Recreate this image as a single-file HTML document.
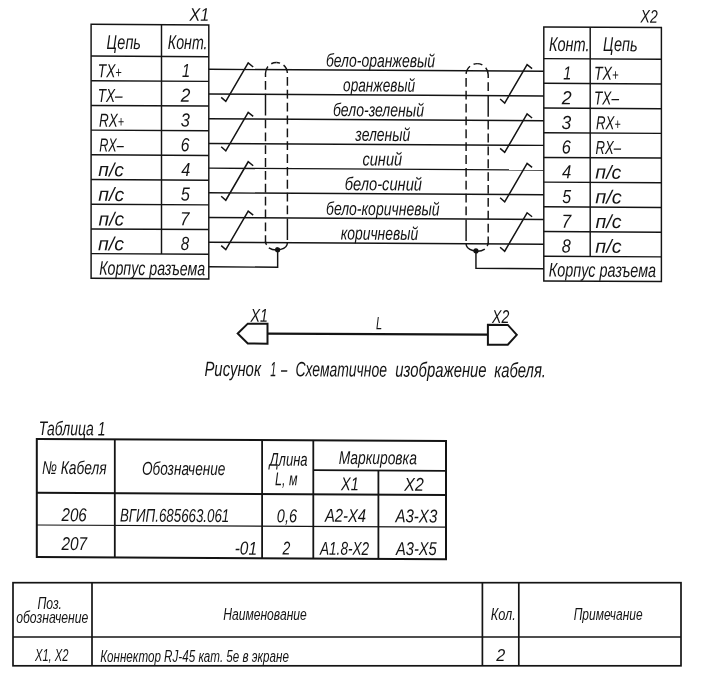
<!DOCTYPE html>
<html lang="ru">
<head>
<meta charset="utf-8">
<title>Схема кабеля</title>
<style>
html,body{margin:0;padding:0;background:#fff;}
body{width:702px;height:692px;overflow:hidden;}
svg{display:block;will-change:transform;}
svg text{white-space:pre;}
</style>
</head>
<body>
<svg width="702" height="692" viewBox="0 0 702 692" stroke="#141414" fill="none">
<rect x="0" y="0" width="702" height="692" fill="#ffffff" stroke="none"/>
<g transform="translate(91 24.3) skewY(0.33) translate(-91 -24.3)">
<rect x="91.1" y="24.3" width="117.70" height="254.00" fill="none" stroke-width="1.45"/>
<line x1="161.50" y1="24.30" x2="161.50" y2="253.60" stroke-width="1.45" />
<line x1="91.10" y1="56.00" x2="208.80" y2="56.00" stroke-width="1.45" />
<line x1="91.10" y1="80.70" x2="208.80" y2="80.70" stroke-width="1.45" />
<line x1="91.10" y1="105.40" x2="208.80" y2="105.40" stroke-width="1.45" />
<line x1="91.10" y1="130.10" x2="208.80" y2="130.10" stroke-width="1.45" />
<line x1="91.10" y1="154.80" x2="208.80" y2="154.80" stroke-width="1.45" />
<line x1="91.10" y1="179.50" x2="208.80" y2="179.50" stroke-width="1.45" />
<line x1="91.10" y1="204.20" x2="208.80" y2="204.20" stroke-width="1.45" />
<line x1="91.10" y1="228.90" x2="208.80" y2="228.90" stroke-width="1.45" />
<line x1="91.10" y1="253.60" x2="208.80" y2="253.60" stroke-width="1.45" />
<rect x="543.8" y="24.3" width="117.60" height="254.00" fill="none" stroke-width="1.45"/>
<line x1="590.20" y1="24.30" x2="590.20" y2="253.60" stroke-width="1.45" />
<line x1="543.80" y1="56.00" x2="661.40" y2="56.00" stroke-width="1.45" />
<line x1="543.80" y1="80.70" x2="661.40" y2="80.70" stroke-width="1.45" />
<line x1="543.80" y1="105.40" x2="661.40" y2="105.40" stroke-width="1.45" />
<line x1="543.80" y1="130.10" x2="661.40" y2="130.10" stroke-width="1.45" />
<line x1="543.80" y1="154.80" x2="661.40" y2="154.80" stroke-width="1.45" />
<line x1="543.80" y1="179.50" x2="661.40" y2="179.50" stroke-width="1.45" />
<line x1="543.80" y1="204.20" x2="661.40" y2="204.20" stroke-width="1.45" />
<line x1="543.80" y1="228.90" x2="661.40" y2="228.90" stroke-width="1.45" />
<line x1="543.80" y1="253.60" x2="661.40" y2="253.60" stroke-width="1.45" />
<line x1="208.80" y1="68.65" x2="543.80" y2="68.65" stroke-width="1.45" />
<line x1="208.80" y1="93.35" x2="543.80" y2="93.35" stroke-width="1.45" />
<line x1="208.80" y1="118.05" x2="543.80" y2="118.05" stroke-width="1.45" />
<line x1="208.80" y1="142.75" x2="543.80" y2="142.75" stroke-width="1.45" />
<line x1="208.80" y1="167.45" x2="543.80" y2="167.45" stroke-width="1.45" />
<line x1="208.80" y1="192.15" x2="543.80" y2="192.15" stroke-width="1.45" />
<line x1="208.80" y1="216.85" x2="543.80" y2="216.85" stroke-width="1.45" />
<line x1="208.80" y1="241.55" x2="543.80" y2="241.55" stroke-width="1.45" />
<polyline fill="none" stroke-width="1.5" stroke-linejoin="miter" points="221.20,96.65 225.80,100.65 248.20,62.05 253.20,66.05"/>
<polyline fill="none" stroke-width="1.5" stroke-linejoin="miter" points="500.10,96.65 504.70,100.65 527.10,62.05 532.10,66.05"/>
<polyline fill="none" stroke-width="1.5" stroke-linejoin="miter" points="221.20,146.05 225.80,150.05 248.20,111.45 253.20,115.45"/>
<polyline fill="none" stroke-width="1.5" stroke-linejoin="miter" points="500.10,146.05 504.70,150.05 527.10,111.45 532.10,115.45"/>
<polyline fill="none" stroke-width="1.5" stroke-linejoin="miter" points="221.20,195.45 225.80,199.45 248.20,160.85 253.20,164.85"/>
<polyline fill="none" stroke-width="1.5" stroke-linejoin="miter" points="500.10,195.45 504.70,199.45 527.10,160.85 532.10,164.85"/>
<polyline fill="none" stroke-width="1.5" stroke-linejoin="miter" points="221.20,244.85 225.80,248.85 248.20,210.25 253.20,214.25"/>
<polyline fill="none" stroke-width="1.5" stroke-linejoin="miter" points="500.10,244.85 504.70,248.85 527.10,210.25 532.10,214.25"/>
<path fill="none" stroke-width="1.45" d="M276.45,61.40 A10.95,10.95 0 0 0 265.50,72.35 L265.50,241.55" stroke-dasharray="5.40 4.30 10.92 4.06 8.80 4.06 21.66 4.06 8.80 4.06 8.80 4.06 8.80 4.06 8.80 4.06 8.80 4.06 8.80 4.06 8.80 4.06 8.80 4.06 8.80 4.06 8.80 4.06"/>
<path fill="none" stroke-width="1.45" d="M276.45,61.40 A10.95,10.95 0 0 1 287.40,72.35 L287.40,241.55" stroke-dasharray="3.65 4.06 8.80 4.06 8.80 4.06 8.80 4.06 8.80 4.06 8.80 4.06 8.80 4.06 8.80 4.06 8.80 4.06 8.80 4.06 8.80 4.06 8.80 4.06 8.80 4.06 21.66 40.00"/>
<path fill="none" stroke-width="1.45" d="M287.40,241.55 A10.95,7.3 0 0 1 268.84,246.80"/>
<path fill="none" stroke-width="1.45" d="M265.50,240.55 Q265.50,242.75 266.70,243.75"/>
<circle cx="277.65" cy="248.65" r="2.6" fill="#141414" stroke="none"/>
<polyline fill="none" stroke-width="1.45" points="277.65,248.65 277.65,266.15 208.80,266.15"/>
<path fill="none" stroke-width="1.45" d="M477.15,61.40 A11.05,11.05 0 0 1 488.20,72.45 L488.20,241.55" stroke-dasharray="5.40 4.30 10.92 4.06 8.80 4.06 21.66 4.06 8.80 4.06 8.80 4.06 8.80 4.06 8.80 4.06 8.80 4.06 8.80 4.06 8.80 4.06 8.80 4.06 8.80 4.06 8.80 4.06"/>
<path fill="none" stroke-width="1.45" d="M477.15,61.40 A11.05,11.05 0 0 0 466.10,72.45 L466.10,241.55" stroke-dasharray="3.65 4.06 8.80 4.06 8.80 4.06 8.80 4.06 8.80 4.06 8.80 4.06 8.80 4.06 8.80 4.06 8.80 4.06 8.80 4.06 8.80 4.06 8.80 4.06 8.80 4.06 21.66 40.00"/>
<path fill="none" stroke-width="1.45" d="M466.10,241.55 A11.05,7.3 0 0 0 484.83,246.80"/>
<path fill="none" stroke-width="1.45" d="M488.20,240.55 Q488.20,242.75 487.00,243.75"/>
<circle cx="475.95" cy="248.65" r="2.6" fill="#141414" stroke="none"/>
<polyline fill="none" stroke-width="1.45" points="475.95,248.65 475.95,266.15 543.80,266.15"/>
<g font-family="'Liberation Sans','DejaVu Sans',sans-serif" font-style="italic" fill="#141414" stroke="none">
<text id="t0" x="189.49" y="20.13" font-size="18.3" textLength="19.56" lengthAdjust="spacingAndGlyphs">X1</text>
<text id="t1" x="640.63" y="19.43" font-size="18.3" textLength="17.10" lengthAdjust="spacingAndGlyphs">X2</text>
<text id="t2" x="106.57" y="48.81" font-size="20.0" textLength="34.34" lengthAdjust="spacingAndGlyphs">Цепь</text>
<text id="t3" x="167.86" y="48.56" font-size="20.0" textLength="39.68" lengthAdjust="spacingAndGlyphs">Конт.</text>
<text id="t4" x="548.93" y="48.36" font-size="20.0" textLength="40.62" lengthAdjust="spacingAndGlyphs">Конт.</text>
<text id="t5" x="603.06" y="48.05" font-size="20.0" textLength="34.55" lengthAdjust="spacingAndGlyphs">Цепь</text>
<text id="t6" x="97.78" y="77.27" font-size="19.0" textLength="24.00" lengthAdjust="spacingAndGlyphs">TX<tspan font-size="15.2">+</tspan></text>
<text id="t7" x="181.99" y="76.59" font-size="19.0" textLength="8.09" lengthAdjust="spacingAndGlyphs">1</text>
<text id="t8" x="563.24" y="76.81" font-size="19.0" textLength="8.04" lengthAdjust="spacingAndGlyphs">1</text>
<text id="t9" x="593.97" y="76.93" font-size="19.0" textLength="24.71" lengthAdjust="spacingAndGlyphs">TX<tspan font-size="15.2">+</tspan></text>
<text id="t10" x="97.70" y="101.97" font-size="19.0" textLength="24.98" lengthAdjust="spacingAndGlyphs">TX–</text>
<text id="t11" x="180.73" y="101.29" font-size="19.0" textLength="9.62" lengthAdjust="spacingAndGlyphs">2</text>
<text id="t12" x="561.68" y="101.52" font-size="19.0" textLength="9.92" lengthAdjust="spacingAndGlyphs">2</text>
<text id="t13" x="594.04" y="101.63" font-size="19.0" textLength="24.95" lengthAdjust="spacingAndGlyphs">TX–</text>
<text id="t14" x="99.11" y="126.66" font-size="19.0" textLength="25.05" lengthAdjust="spacingAndGlyphs">RX<tspan font-size="15.2">+</tspan></text>
<text id="t15" x="180.77" y="125.99" font-size="19.0" textLength="9.13" lengthAdjust="spacingAndGlyphs">3</text>
<text id="t16" x="561.50" y="126.22" font-size="19.0" textLength="9.76" lengthAdjust="spacingAndGlyphs">3</text>
<text id="t17" x="596.04" y="126.32" font-size="19.0" textLength="24.60" lengthAdjust="spacingAndGlyphs">RX<tspan font-size="15.2">+</tspan></text>
<text id="t18" x="99.24" y="151.36" font-size="19.0" textLength="24.61" lengthAdjust="spacingAndGlyphs">RX–</text>
<text id="t19" x="180.73" y="150.69" font-size="19.0" textLength="8.73" lengthAdjust="spacingAndGlyphs">6</text>
<text id="t20" x="561.83" y="150.92" font-size="19.0" textLength="9.09" lengthAdjust="spacingAndGlyphs">6</text>
<text id="t21" x="595.54" y="151.03" font-size="19.0" textLength="25.57" lengthAdjust="spacingAndGlyphs">RX–</text>
<text id="t22" x="98.36" y="176.07" font-size="19.0" textLength="25.65" lengthAdjust="spacingAndGlyphs">п/с</text>
<text id="t23" x="181.16" y="175.39" font-size="19.0" textLength="9.08" lengthAdjust="spacingAndGlyphs">4</text>
<text id="t24" x="562.10" y="175.62" font-size="19.0" textLength="9.31" lengthAdjust="spacingAndGlyphs">4</text>
<text id="t25" x="595.36" y="175.73" font-size="19.0" textLength="26.04" lengthAdjust="spacingAndGlyphs">п/с</text>
<text id="t26" x="98.32" y="200.77" font-size="19.0" textLength="25.91" lengthAdjust="spacingAndGlyphs">п/с</text>
<text id="t27" x="180.64" y="200.09" font-size="19.0" textLength="9.13" lengthAdjust="spacingAndGlyphs">5</text>
<text id="t28" x="562.14" y="200.32" font-size="19.0" textLength="8.89" lengthAdjust="spacingAndGlyphs">5</text>
<text id="t29" x="595.16" y="200.43" font-size="19.0" textLength="26.63" lengthAdjust="spacingAndGlyphs">п/с</text>
<text id="t30" x="98.62" y="225.47" font-size="19.0" textLength="25.52" lengthAdjust="spacingAndGlyphs">п/с</text>
<text id="t31" x="179.99" y="224.80" font-size="19.0" textLength="9.48" lengthAdjust="spacingAndGlyphs">7</text>
<text id="t32" x="561.44" y="225.02" font-size="19.0" textLength="9.69" lengthAdjust="spacingAndGlyphs">7</text>
<text id="t33" x="595.49" y="225.13" font-size="19.0" textLength="26.02" lengthAdjust="spacingAndGlyphs">п/с</text>
<text id="t34" x="98.07" y="250.17" font-size="19.0" textLength="26.04" lengthAdjust="spacingAndGlyphs">п/с</text>
<text id="t35" x="180.87" y="249.49" font-size="19.0" textLength="8.45" lengthAdjust="spacingAndGlyphs">8</text>
<text id="t36" x="561.71" y="249.72" font-size="19.0" textLength="9.07" lengthAdjust="spacingAndGlyphs">8</text>
<text id="t37" x="595.33" y="249.83" font-size="19.0" textLength="26.25" lengthAdjust="spacingAndGlyphs">п/с</text>
<text id="t38" x="99.13" y="274.65" font-size="19.6" textLength="106.16" lengthAdjust="spacingAndGlyphs">Корпус разъема</text>
<text id="t39" x="548.77" y="273.86" font-size="19.6" textLength="107.28" lengthAdjust="spacingAndGlyphs">Корпус разъема</text>
<text id="t40" x="325.93" y="65.27" font-size="18.6" textLength="109.16" lengthAdjust="spacingAndGlyphs">бело-оранжевый</text>
<text id="t41" x="343.12" y="89.87" font-size="18.6" textLength="71.94" lengthAdjust="spacingAndGlyphs">оранжевый</text>
<text id="t42" x="332.97" y="114.63" font-size="18.6" textLength="91.00" lengthAdjust="spacingAndGlyphs">бело-зеленый</text>
<text id="t43" x="355.35" y="139.20" font-size="18.6" textLength="54.86" lengthAdjust="spacingAndGlyphs">зеленый</text>
<text id="t44" x="362.47" y="163.86" font-size="18.6" textLength="39.65" lengthAdjust="spacingAndGlyphs">синий</text>
<text id="t45" x="344.77" y="188.66" font-size="18.6" textLength="77.26" lengthAdjust="spacingAndGlyphs">бело-синий</text>
<text id="t46" x="326.02" y="213.47" font-size="18.6" textLength="113.51" lengthAdjust="spacingAndGlyphs">бело-коричневый</text>
<text id="t47" x="340.68" y="238.08" font-size="18.6" textLength="77.47" lengthAdjust="spacingAndGlyphs">коричневый</text>
</g>
</g>
<g transform="translate(237 334) skewY(0.27) translate(-237 -334)">
<polygon fill="none" stroke-width="2.0" stroke-linejoin="miter" points="237.7,333.5 247.8,323.6 267.5,323.6 267.5,343.5 247.8,343.5"/>
<polygon fill="none" stroke-width="2.0" stroke-linejoin="miter" points="516.8,333.5 507.8,323.6 487.9,323.6 487.9,343.5 507.8,343.5"/>
<line x1="267.50" y1="333.50" x2="487.90" y2="333.50" stroke-width="2.3" />
<g font-family="'Liberation Sans','DejaVu Sans',sans-serif" font-style="italic" fill="#141414" stroke="none">
<text id="t48" x="250.50" y="321.64" font-size="18.6" textLength="17.44" lengthAdjust="spacingAndGlyphs">X1</text>
<text id="t49" x="492.00" y="321.70" font-size="18.6" textLength="17.23" lengthAdjust="spacingAndGlyphs">X2</text>
<text id="t50" x="376.12" y="328.64" font-size="18.0" textLength="6.11" lengthAdjust="spacingAndGlyphs">L</text>
<text id="t51" x="204.43" y="376.06" font-size="20.7" textLength="56.51" lengthAdjust="spacingAndGlyphs">Рисунок</text>
<text id="t52" x="270.33" y="376.03" font-size="20.7" textLength="6.04" lengthAdjust="spacingAndGlyphs">1</text>
<text id="t53" x="281.07" y="376.02" font-size="20.7" textLength="6.30" lengthAdjust="spacingAndGlyphs">–</text>
<text id="t54" x="295.38" y="376.02" font-size="20.7" textLength="91.69" lengthAdjust="spacingAndGlyphs">Схематичное</text>
<text id="t55" x="395.36" y="375.97" font-size="20.7" textLength="91.27" lengthAdjust="spacingAndGlyphs">изображение</text>
<text id="t56" x="494.19" y="375.92" font-size="20.7" textLength="51.80" lengthAdjust="spacingAndGlyphs">кабеля.</text>
</g>
</g>
<g transform="translate(36.8 438.9) skewY(0.30000000000000004) translate(-36.8 -438.9)">
<rect x="36.8" y="438.9" width="409.2" height="118.10" fill="none" stroke-width="2.0"/>
<line x1="114.80" y1="438.90" x2="114.80" y2="557.00" stroke-width="1.8" />
<line x1="262.10" y1="438.90" x2="262.10" y2="557.00" stroke-width="1.8" />
<line x1="313.30" y1="438.90" x2="313.30" y2="557.00" stroke-width="1.8" />
<line x1="378.40" y1="468.70" x2="378.40" y2="557.00" stroke-width="1.8" />
<line x1="313.30" y1="468.70" x2="446.00" y2="468.70" stroke-width="1.8" />
<line x1="36.80" y1="492.80" x2="446.00" y2="492.80" stroke-width="1.9" />
<line x1="36.80" y1="525.00" x2="446.00" y2="525.00" stroke-width="1.2" />
<g font-family="'Liberation Sans','DejaVu Sans',sans-serif" font-style="italic" fill="#141414" stroke="none">
<text id="t57" x="38.80" y="435.09" font-size="19.8" textLength="66.67" lengthAdjust="spacingAndGlyphs">Таблица 1</text>
<text id="t58" x="41.88" y="473.87" font-size="18.6" textLength="64.75" lengthAdjust="spacingAndGlyphs">№ Кабеля</text>
<text id="t59" x="141.89" y="474.15" font-size="18.6" textLength="83.48" lengthAdjust="spacingAndGlyphs">Обозначение</text>
<text id="t60" x="269.39" y="464.48" font-size="18.6" textLength="38.19" lengthAdjust="spacingAndGlyphs">Длина</text>
<text id="t61" x="275.06" y="483.95" font-size="18.6" textLength="22.40" lengthAdjust="spacingAndGlyphs">L, м</text>
<text id="t62" x="338.64" y="462.32" font-size="18.6" textLength="78.21" lengthAdjust="spacingAndGlyphs">Маркировка</text>
<text id="t63" x="341.08" y="488.61" font-size="18.6" textLength="17.69" lengthAdjust="spacingAndGlyphs">X1</text>
<text id="t64" x="404.34" y="488.78" font-size="18.6" textLength="19.41" lengthAdjust="spacingAndGlyphs">X2</text>
<text id="t65" x="61.45" y="520.97" font-size="18.6" textLength="25.32" lengthAdjust="spacingAndGlyphs">206</text>
<text id="t66" x="119.90" y="521.16" font-size="18.6" textLength="109.39" lengthAdjust="spacingAndGlyphs">ВГИП.685663.061</text>
<text id="t67" x="276.88" y="520.94" font-size="18.6" textLength="20.15" lengthAdjust="spacingAndGlyphs">0,6</text>
<text id="t68" x="324.94" y="520.29" font-size="18.6" textLength="41.17" lengthAdjust="spacingAndGlyphs">A2-X4</text>
<text id="t69" x="395.42" y="520.42" font-size="18.6" textLength="41.84" lengthAdjust="spacingAndGlyphs">A3-X3</text>
<text id="t70" x="61.44" y="549.77" font-size="18.6" textLength="25.72" lengthAdjust="spacingAndGlyphs">207</text>
<text id="t71" x="234.72" y="553.56" font-size="18.6" textLength="22.32" lengthAdjust="spacingAndGlyphs">-01</text>
<text id="t72" x="282.52" y="553.31" font-size="18.6" textLength="7.82" lengthAdjust="spacingAndGlyphs">2</text>
<text id="t73" x="319.93" y="553.22" font-size="18.6" textLength="49.26" lengthAdjust="spacingAndGlyphs">A1.8-X2</text>
<text id="t74" x="396.09" y="553.02" font-size="18.6" textLength="40.69" lengthAdjust="spacingAndGlyphs">A3-X5</text>
</g>
</g>
<g>
<rect x="13.0" y="582.7" width="668.0" height="83.10" fill="none" stroke-width="1.7"/>
<line x1="92.00" y1="582.70" x2="92.00" y2="665.80" stroke-width="1.7" />
<line x1="482.40" y1="582.70" x2="482.40" y2="665.80" stroke-width="1.7" />
<line x1="518.80" y1="582.70" x2="518.80" y2="665.80" stroke-width="1.7" />
<line x1="13.00" y1="637.00" x2="681.00" y2="637.00" stroke-width="1.7" />
<g font-family="'Liberation Sans','DejaVu Sans',sans-serif" font-style="italic" fill="#141414" stroke="none">
<text id="t75" x="37.40" y="609.40" font-size="16.4" textLength="24.62" lengthAdjust="spacingAndGlyphs">Поз.</text>
<text id="t76" x="16.13" y="623.40" font-size="16.4" textLength="72.26" lengthAdjust="spacingAndGlyphs">обозначение</text>
<text id="t77" x="223.15" y="619.60" font-size="16.799999999999997" textLength="83.69" lengthAdjust="spacingAndGlyphs">Наименование</text>
<text id="t78" x="490.66" y="619.60" font-size="16.799999999999997" textLength="25.11" lengthAdjust="spacingAndGlyphs">Кол.</text>
<text id="t79" x="573.65" y="619.60" font-size="16.799999999999997" textLength="69.03" lengthAdjust="spacingAndGlyphs">Примечание</text>
<text id="t80" x="34.92" y="660.90" font-size="15.799999999999999" textLength="33.61" lengthAdjust="spacingAndGlyphs">X1, X2</text>
<text id="t81" x="100.18" y="661.50" font-size="15.999999999999998" textLength="188.68" lengthAdjust="spacingAndGlyphs">Коннектор RJ-45 кат. 5e в экране</text>
<text id="t82" x="496.34" y="661.30" font-size="15.999999999999998" textLength="8.99" lengthAdjust="spacingAndGlyphs">2</text>
</g></g>
</svg>
</body>
</html>
